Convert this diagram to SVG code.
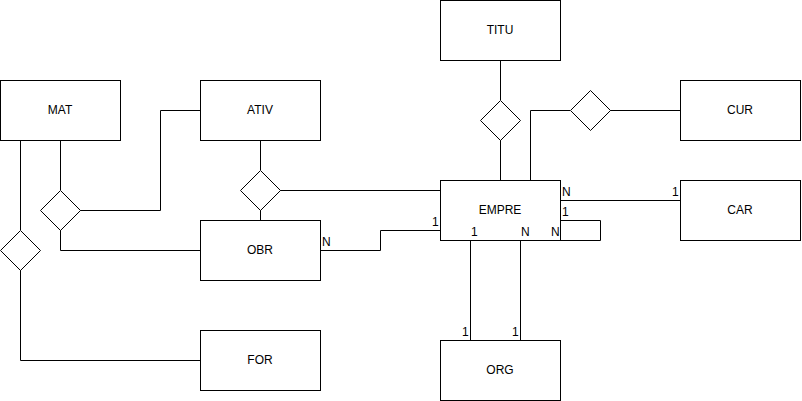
<svg xmlns="http://www.w3.org/2000/svg" width="802" height="401" viewBox="0 0 802 401">
<style>
.box{fill:#fff;stroke:#000;stroke-width:1}
.dia{fill:#fff;stroke:#000;stroke-width:1}
.lbl{font-family:"Liberation Sans",Arial,sans-serif;font-size:12px;fill:#000;text-anchor:middle;dominant-baseline:central}
.card{font-family:"Liberation Sans",Arial,sans-serif;font-size:12px;fill:#000}
.edge{fill:none;stroke:#000;stroke-width:1}
</style>
<rect width="802" height="401" fill="#fff"/>
<g id="connectors">
<path class="edge" d="M60.5 140 V190"/>
<path class="edge" d="M80 210.5 H160.5 V110.5 H200"/>
<path class="edge" d="M60.5 230 V250.5 H200"/>
<path class="edge" d="M20.5 140 V230"/>
<path class="edge" d="M20.5 270 V360.5 H200"/>
<path class="edge" d="M260.5 140 V170"/>
<path class="edge" d="M260.5 210 V220"/>
<path class="edge" d="M280 190.5 H440"/>
<path class="edge" d="M320 250.5 H380.5 V230.5 H440"/>
<path class="edge" d="M500.5 60 V100"/>
<path class="edge" d="M500.5 140 V180"/>
<path class="edge" d="M680 110.5 H610"/>
<path class="edge" d="M570 110.5 H530.5 V180"/>
<path class="edge" d="M560 200.5 H680"/>
<path class="edge" d="M560 220.5 H600.5 V240.5 H560"/>
<path class="edge" d="M470.5 240 V340"/>
<path class="edge" d="M520.5 240 V340"/>
</g>
<g id="MAT"><rect class="box" x="0.5" y="80.5" width="120" height="60"/><text class="lbl" x="60" y="110">MAT</text></g>
<g id="ATIV"><rect class="box" x="200.5" y="80.5" width="120" height="60"/><text class="lbl" x="260" y="110">ATIV</text></g>
<g id="TITU"><rect class="box" x="440.5" y="0.5" width="120" height="60"/><text class="lbl" x="500" y="30">TITU</text></g>
<g id="CUR"><rect class="box" x="680.5" y="80.5" width="120" height="60"/><text class="lbl" x="740" y="110">CUR</text></g>
<g id="EMPRE"><rect class="box" x="440.5" y="180.5" width="120" height="60"/><text class="lbl" x="500" y="210">EMPRE</text></g>
<g id="CAR"><rect class="box" x="680.5" y="180.5" width="120" height="60"/><text class="lbl" x="740" y="210">CAR</text></g>
<g id="OBR"><rect class="box" x="200.5" y="220.5" width="120" height="60"/><text class="lbl" x="260" y="250">OBR</text></g>
<g id="FOR"><rect class="box" x="200.5" y="330.5" width="120" height="60"/><text class="lbl" x="260" y="360">FOR</text></g>
<g id="ORG"><rect class="box" x="440.5" y="340.5" width="120" height="60"/><text class="lbl" x="500" y="370">ORG</text></g>
<g id="rel_mat_ativ_obr"><polygon class="dia" points="60.5,190.5 80.5,210.5 60.5,230.5 40.5,210.5"/></g>
<g id="rel_mat_for"><polygon class="dia" points="20.5,230.5 40.5,250.5 20.5,270.5 0.5,250.5"/></g>
<g id="rel_ativ_obr_empre"><polygon class="dia" points="260.5,170.5 280.5,190.5 260.5,210.5 240.5,190.5"/></g>
<g id="rel_titu_empre"><polygon class="dia" points="500.5,100.5 520.5,120.5 500.5,140.5 480.5,120.5"/></g>
<g id="rel_cur_empre"><polygon class="dia" points="590.5,90.5 610.5,110.5 590.5,130.5 570.5,110.5"/></g>
<g id="cardinalities">
<text class="card" x="322" y="246">N</text>
<text class="card" x="432" y="226">1</text>
<text class="card" x="562" y="196">N</text>
<text class="card" x="672" y="196">1</text>
<text class="card" x="562" y="216">1</text>
<text class="card" x="551" y="236">N</text>
<text class="card" x="471" y="236">1</text>
<text class="card" x="521" y="236">N</text>
<text class="card" x="462" y="336">1</text>
<text class="card" x="512" y="336">1</text>
</g>
</svg>
